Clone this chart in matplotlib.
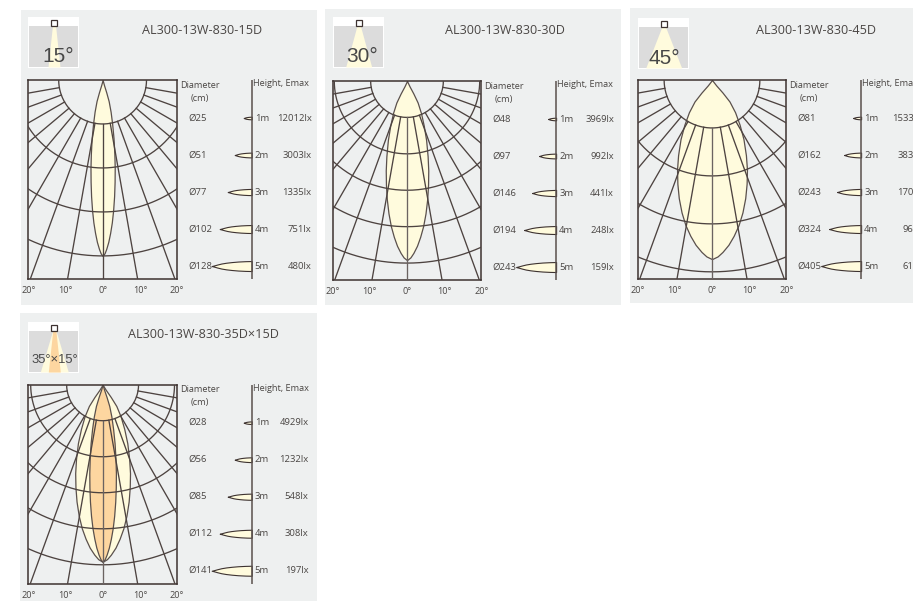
import numpy as np
import matplotlib
matplotlib.use("Agg")
import matplotlib.pyplot as plt

W, H = 913, 601
plt.rcParams["font.family"] = ["Open Sans", "DejaVu Sans"]

# values
titles = ["AL300-13W-830-15D", "AL300-13W-830-30D", "AL300-13W-830-45D", "AL300-13W-830-35D×15D"]
icon_labels = ["15°", "30°", "45°", "35°×15°"]
heights = [1, 2, 3, 4, 5]
diameters = [
    ["Ø25", "Ø51", "Ø77", "Ø102", "Ø128"],
    ["Ø48", "Ø97", "Ø146", "Ø194", "Ø243"],
    ["Ø81", "Ø162", "Ø243", "Ø324", "Ø405"],
    ["Ø28", "Ø56", "Ø85", "Ø112", "Ø141"],
]
emax = [
    [12012, 3003, 1335, 751, 480],
    [3969, 992, 441, 248, 159],
    [1533, 383, 170, 96, 61],
    [4929, 1232, 548, 308, 197],
]
arc_step = [0.221, 0.183, 0.241, 0.181]
radial_angles = [-80, -70, -60, -50, -40, -30, -20, -10, 0, 10, 20, 30, 40, 50, 60, 70, 80]
tick_pos = [-0.374, -0.188, 0, 0.188, 0.374]
tick_labels = ["20°", "10°", "0°", "10°", "20°"]

# beam outline: depth along the beam / width, both as a fraction of the maximum
lobe_depth = [0, .03, .07, .12, .18, .25, .33, .42, .5, .58, .66, .74, .81, .87, .92, .96, .985, 1]
lobe_width = [0, .12, .30, .50, .66, .79, .90, .97, 1, .99, .95, .87, .76, .62, .47, .3, .16, 0]
beam_len = [0.884, 0.90, 0.90, 0.89]
beam_half = [0.061, 0.107, 0.176, 0.138]
inner_half = [None, None, None, 0.067]
side_len = [8, 17, 24, 32, 40]
side_half = [1.3, 2.4, 3.1, 4.0, 5.0]
icon_beam = [6, 13, 18, 14]
icon_inner = [None, None, None, 6]

# layout in pixels
panels = [(21, 10, 317, 305), (325, 9, 621, 305), (630, 8, 913, 303), (20, 313, 317, 601)]
boxes = [(28.3, 80), (332.7, 81), (637.7, 80), (28.3, 384.7)]
icons = [(28, 17), (332.7, 17), (637.7, 18), (28.3, 322)]
icon_text_x = [30, 29, 27, 26.5]
title_pos = [(202, 31), (505, 31), (816, 31), (203, 334)]
emax_right = [60, 58, 60, 57]

DARK = "#3d3230"
LINE = "#4d4340"
TEXT = "#4a4644"
BG = "#eef0f0"
CREAM = "#fffbdd"
ORANGE = "#fdd6a0"
PX_PER_M = 37


def px_axes(fig, x0, y0, x1, y1):
    return fig.add_axes([x0 / W, 1 - y1 / H, (x1 - x0) / W, (y1 - y0) / H])


def draw_lobe(ax, half, length, color, zorder):
    d = np.array(lobe_depth) * length
    w = np.array(lobe_width) * half
    ax.fill_betweenx(d, -w, w, facecolor=color, edgecolor="#5a504c", lw=0.9, zorder=zorder)


def draw_polar(ax, i):
    ax.set_xlim(-0.3737, 0.3737)
    ax.set_ylim(1, 0)
    ax.set_facecolor(BG)
    step = arc_step[i]

    draw_lobe(ax, beam_half[i], beam_len[i], CREAM, 1)
    if inner_half[i]:
        draw_lobe(ax, inner_half[i], beam_len[i], ORANGE, 2)

    t = np.radians(np.linspace(-90, 90, 181))
    for k in range(1, 7):
        ax.plot(k * step * np.sin(t), k * step * np.cos(t), color=LINE, lw=0.95, zorder=3)
    for a in radial_angles:
        s, c = np.sin(np.radians(a)), np.cos(np.radians(a))
        col = "#6b6361" if a == 0 and i > 0 else LINE
        ax.plot([step * s, 2 * s], [step * c, 2 * c], color=col, lw=0.95, zorder=3)

    ax.set_yticks([])
    ax.set_xticks(tick_pos)
    ax.set_xticklabels(tick_labels, fontsize=6.6, color=TEXT)
    ax.tick_params(axis="x", length=0, pad=5)
    for sp in ax.spines.values():
        sp.set_color(DARK)
        sp.set_linewidth(1.1)


def draw_side(ax, i):
    ax.set_xlim(-70, 62)
    ax.set_ylim(5.35, -0.027)
    ax.axis("off")
    ax.axvline(0, color="#5a504c", lw=1.1)
    ax.text(-52, 0.11, "Diameter", fontsize=6.6, color=TEXT, ha="center", va="center")
    ax.text(-52, 0.46, "(cm)", fontsize=6.6, color=TEXT, ha="center", va="center")
    ax.text(1, 0.08, "Height, Emax", fontsize=6.6, color=TEXT, ha="left", va="center", clip_on=False)
    for j, h in enumerate(heights):
        d = np.array(lobe_depth[:9]) / 0.5 * side_len[j]
        w = np.array(lobe_width[:9]) * side_half[j] / PX_PER_M
        ax.fill_between(d - side_len[j], h - w, h + w, facecolor=CREAM, edgecolor=DARK, lw=0.8)
        ax.text(-63.4, h, diameters[i][j], fontsize=6.8, color=TEXT, ha="left", va="center")
        ax.text(3, h, f"{h}m", fontsize=6.8, color=TEXT, ha="left", va="center")
        ax.text(emax_right[i], h, f"{emax[i][j]}lx", fontsize=6.8, color=TEXT, ha="right", va="center")


def draw_icon(ax, i):
    ax.set_xlim(0, 51)
    ax.set_ylim(51, 0)
    ax.set_xticks([])
    ax.set_yticks([])
    for sp in ax.spines.values():
        sp.set_visible(False)
    ax.set_facecolor("white")
    ax.fill_between([1, 50], 9, 50, color="#dcdcdc", lw=0)
    cx = 26
    ax.fill_betweenx([8, 50], [cx - 1.5, cx - icon_beam[i]], [cx + 1.5, cx + icon_beam[i]], color=CREAM, lw=0, zorder=2)
    if icon_inner[i]:
        ax.fill_betweenx([8, 50], [cx - 1.5, cx - icon_inner[i]], [cx + 1.5, cx + icon_inner[i]], color=ORANGE, lw=0, zorder=3)
    ax.plot([cx], [5.5], marker="s", ms=4.6, mfc="white", mec=DARK, mew=0.9, zorder=4)
    size = 9.4 if len(icon_labels[i]) > 3 else 15
    y = 38 if len(icon_labels[i]) > 3 else 40
    ax.text(icon_text_x[i], y, icon_labels[i], fontsize=size, color="#484848", ha="center", va="center",
            family="Liberation Sans", zorder=5)


fig = plt.figure(figsize=(W / 100, H / 100), dpi=100, facecolor="white")

for i in range(4):
    px = panels[i]
    bg = px_axes(fig, *px)
    bg.set_facecolor(BG)
    bg.set_xticks([])
    bg.set_yticks([])
    for sp in bg.spines.values():
        sp.set_visible(False)
    bg.set_xlim(px[0], px[2])
    bg.set_ylim(px[3], px[1])
    bg.text(title_pos[i][0], title_pos[i][1], titles[i], fontsize=9.1, color=TEXT, ha="center", va="center")

    bx, by = boxes[i]
    draw_polar(px_axes(fig, bx, by, bx + 148.6, by + 199), i)
    draw_side(px_axes(fig, bx + 223.4 - 70, by, bx + 223.4 + 62, by + 199), i)
    ix, iy = icons[i]
    draw_icon(px_axes(fig, ix, iy, ix + 51, iy + 51), i)

fig.savefig("out.png", dpi=100)
